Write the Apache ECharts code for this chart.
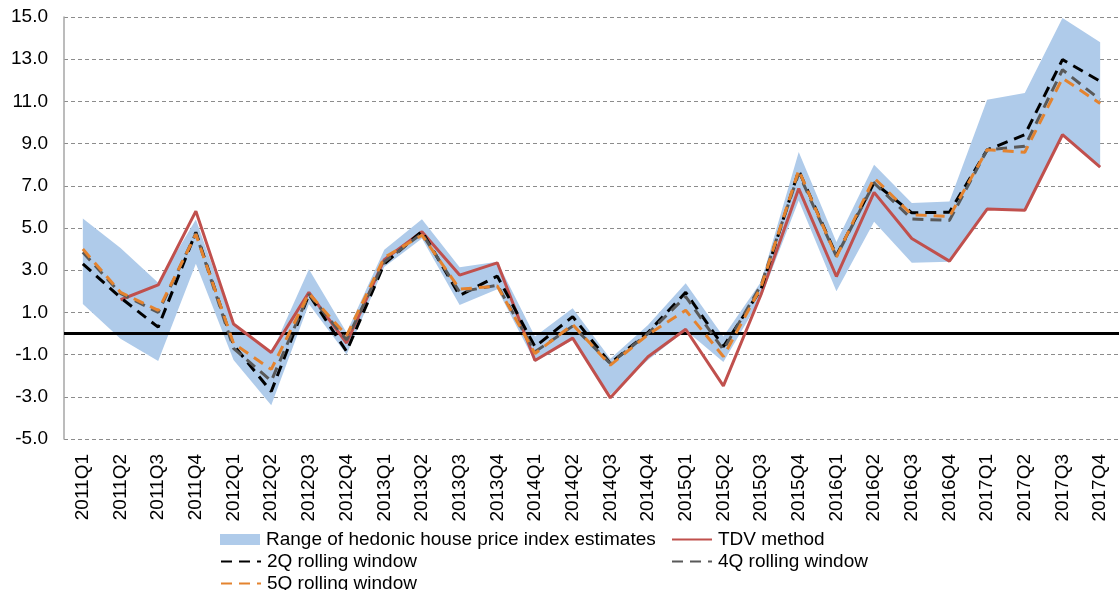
<!DOCTYPE html>
<html>
<head>
<meta charset="utf-8">
<script src="https://cdn.jsdelivr.net/npm/echarts@6/dist/echarts.min.js"></script>
<style>
html,body{margin:0;padding:0;background:#fff;}
#chart{width:1119px;height:590px;}
</style>
</head>
<body>
<div id="chart"></div>
<script>
const categories = ['2011Q1','2011Q2','2011Q3','2011Q4','2012Q1','2012Q2','2012Q3','2012Q4','2013Q1','2013Q2','2013Q3','2013Q4','2014Q1','2014Q2','2014Q3','2014Q4','2015Q1','2015Q2','2015Q3','2015Q4','2016Q1','2016Q2','2016Q3','2016Q4','2017Q1','2017Q2','2017Q3','2017Q4'];

const rangeLower = [1.4, -0.25, -1.3, 3.3, -1.25, -3.4, 1.4, -1.0, 3.15, 4.5, 1.35, 2.1, -1.35, -0.3, -2.9, -1.25, 0.15, -1.35, 1.7, 6.3, 2.0, 5.3, 3.35, 3.4, 5.9, 5.85, 9.4, 7.85];
const rangeUpper = [5.45, 4.05, 2.4, 5.4, 0.4, -0.95, 3.05, 0.05, 3.97, 5.42, 3.14, 3.4, -0.14, 1.2, -1.2, 0.4, 2.38, -0.14, 2.45, 8.6, 4.34, 8.0, 6.18, 6.26, 11.08, 11.4, 14.95, 13.8];
const tdv = [null, 1.6, 2.3, 5.8, 0.45, -0.9, 1.95, -0.45, 3.5, 4.82, 2.77, 3.35, -1.28, -0.22, -3.05, -1.1, 0.2, -2.48, 1.85, 6.87, 2.7, 6.69, 4.5, 3.43, 5.9, 5.84, 9.42, 7.88];
const roll2Q = [3.3, 1.7, 0.3, 4.8, -0.55, -2.75, 1.85, -0.85, 3.3, 4.85, 1.8, 2.72, -0.63, 0.8, -1.42, 0.05, 1.95, -0.62, 2.1, 7.72, 3.7, 7.15, 5.72, 5.75, 8.7, 9.42, 12.98, 11.95];
const roll4Q = [3.85, 1.9, 1.0, 4.75, -0.7, -2.25, 1.86, -0.3, 3.4, 4.74, 1.97, 2.29, -0.87, 0.35, -1.42, 0.0, 1.75, -0.77, 2.3, 7.58, 3.65, 7.13, 5.43, 5.36, 8.7, 8.87, 12.5, 11.08];
const roll5Q = [4.0, 1.95, 1.1, 4.7, -0.47, -1.7, 1.9, -0.1, 3.6, 4.66, 2.1, 2.25, -0.95, 0.42, -1.5, -0.05, 1.1, -1.09, 2.2, 7.74, 3.63, 7.37, 5.63, 5.55, 8.71, 8.59, 12.1, 10.9];
const yTicks = {min: -5, max: 15, interval: 2};

const names = {
  range: 'Range of hedonic house price index estimates',
  tdv: 'TDV method',
  r2: '2Q rolling window',
  r4: '4Q rolling window',
  r5: '5Q rolling window'
};
const colors = {band: '#afcbea', tdv: '#c0504d', r2: '#000000', r4: '#595959', r5: '#e4832f'};
const FONT = 'Liberation Sans, Arial, sans-serif';

const rangeDiff = rangeUpper.map((u, i) => +(u - rangeLower[i]).toFixed(3));

const chart = echarts.init(document.getElementById('chart'), null, {renderer: 'canvas'});

function legendAt(name, left, top, isRect) {
  const item = {name: name};
  if (isRect) item.icon = 'rect';
  const lg = {
    show: true, left: left, top: top, orient: 'horizontal',
    data: [item], itemWidth: 40, itemHeight: isRect ? 11 : 14, itemGap: 0,
    padding: 0, selectedMode: false,
    textStyle: {fontFamily: FONT, fontSize: 19, color: '#000', padding: [0, 0, 0, 1]}
  };
  if (!isRect) lg.itemStyle = {opacity: 0};
  return lg;
}

const dashed = [11, 7];

chart.setOption({
  animation: false,
  backgroundColor: '#fff',
  textStyle: {fontFamily: FONT},
  grid: {left: 64, top: 17, bottom: 151, width: 1062, containLabel: false},
  legend: [
    legendAt(names.range, 220, 530, true),
    legendAt(names.tdv, 671, 530),
    legendAt(names.r2, 220, 552),
    legendAt(names.r4, 671, 552),
    legendAt(names.r5, 220, 574)
  ],
  xAxis: {
    type: 'category', data: categories, boundaryGap: true,
    axisLine: {show: false}, axisTick: {show: false},
    axisLabel: {rotate: 90, fontSize: 19, color: '#000', margin: 15, fontFamily: FONT, interval: 0},
    splitLine: {show: false}
  },
  yAxis: {
    type: 'value', min: yTicks.min, max: yTicks.max, interval: yTicks.interval,
    axisLine: {show: true, lineStyle: {color: '#a6a6a6', width: 1.5}},
    axisTick: {show: false},
    axisLabel: {fontSize: 19, color: '#000', margin: 16, fontFamily: FONT, formatter: v => v.toFixed(1)},
    splitLine: {show: true, lineStyle: {color: '#8c8c8c', width: 1, type: [4, 3]}}
  },
  series: [
    {
      name: 'lower', type: 'line', stack: 'band', stackStrategy: 'all', data: rangeLower,
      symbol: 'none', lineStyle: {opacity: 0}, silent: true, z: 1
    },
    {
      name: names.range, type: 'line', stack: 'band', stackStrategy: 'all', data: rangeDiff,
      symbol: 'none', lineStyle: {opacity: 0, width: 0}, itemStyle: {color: colors.band},
      areaStyle: {color: colors.band, opacity: 1}, silent: true, z: 1,
      markLine: {
        silent: true, symbol: ['none', 'none'], label: {show: false},
        lineStyle: {color: '#000', width: 3, type: 'solid'},
        data: [{yAxis: 0}], z: 2
      }
    },
    {
      name: names.tdv, type: 'line', data: tdv, symbol: 'none', z: 3,
      itemStyle: {color: colors.tdv}, lineStyle: {color: colors.tdv, width: 3}
    },
    {
      name: names.r2, type: 'line', data: roll2Q, symbol: 'none', z: 4,
      itemStyle: {color: colors.r2}, lineStyle: {color: colors.r2, width: 3, type: dashed}
    },
    {
      name: names.r4, type: 'line', data: roll4Q, symbol: 'none', z: 5,
      itemStyle: {color: colors.r4}, lineStyle: {color: colors.r4, width: 3, type: dashed}
    },
    {
      name: names.r5, type: 'line', data: roll5Q, symbol: 'none', z: 6,
      itemStyle: {color: colors.r5}, lineStyle: {color: colors.r5, width: 3, type: dashed}
    }
  ]
});
</script>
</body>
</html>
